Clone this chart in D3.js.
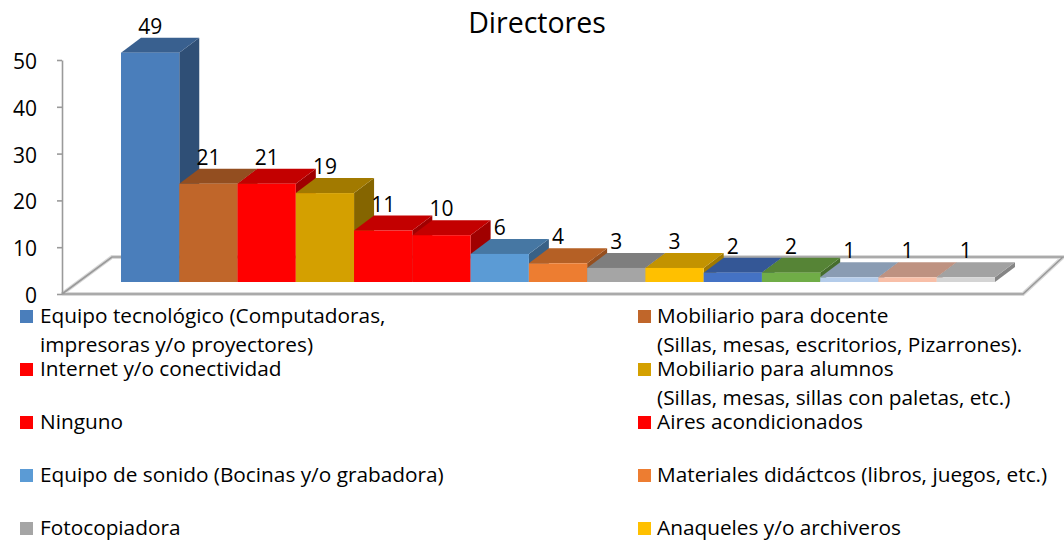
<!DOCTYPE html>
<html>
<head>
<meta charset="utf-8">
<script src="https://cdn.jsdelivr.net/npm/d3@7"></script>
<style>
  body { margin: 0; background: #ffffff; }
  svg { display: block; }
  text { font-family: "Open Sans", Lato, sans-serif; fill: #000; }
</style>
</head>
<body>
<svg id="chart" width="1064" height="540"></svg>
<script>
// ---- data -------------------------------------------------------------
const chartTitle = "Directores";
const categories = [
  "Equipo tecnológico (Computadoras,\nimpresoras y/o proyectores)",
  "Mobiliario para docente\n(Sillas, mesas, escritorios, Pizarrones).",
  "Internet y/o conectividad",
  "Mobiliario para alumnos\n(Sillas, mesas, sillas con paletas, etc.)",
  "Ninguno",
  "Aires acondicionados",
  "Equipo de sonido (Bocinas y/o grabadora)",
  "Materiales didáctcos (libros, juegos, etc.)",
  "Fotocopiadora",
  "Anaqueles y/o archiveros",
  "Categoría 11",
  "Categoría 12",
  "Categoría 13",
  "Categoría 14",
  "Categoría 15"
];
const values = [49, 21, 21, 19, 11, 10, 6, 4, 3, 3, 2, 2, 1, 1, 1];
const barColors = [
  "#4A7EBB", "#C0662A", "#FF0000", "#D4A000", "#FF0000",
  "#FF0000", "#5B9BD5", "#ED7D31", "#A5A5A5", "#FFC000",
  "#4472C4", "#70AD47", "#B4CCEA", "#F8BFA8", "#D4D4D4"
];
const yTicks = [0, 10, 20, 30, 40, 50];

// ---- layout -----------------------------------------------------------
const svg = d3.select("#chart");
const W = 1064, H = 540;

const axisX = 62;
const y = d3.scaleLinear().domain([0, 50]).range([294, 60]);   // value axis (front plane)
const barBase = 282;                                            // bars sit deeper in the box
const yBar = d3.scaleLinear().domain([0, 50]).range([barBase, barBase - (y(0) - y(50))]);
const x = d3.scaleBand().domain(d3.range(values.length)).range([121, 995]).padding(0);

const depthX = 20, depthY = 15;       // bar depth projection
const floorDX = 50, floorDY = 37;     // floor depth projection

// ---- title ------------------------------------------------------------
svg.append("text")
  .attr("x", 537).attr("y", 33)
  .attr("text-anchor", "middle")
  .style("font-size", "28.5px")
  .text(chartTitle);

// ---- floor outline ----------------------------------------------------
const floorFrontRight = 1023;
const floorPath = d3.path();
floorPath.moveTo(axisX, y(0));
floorPath.lineTo(axisX + floorDX, y(0) - floorDY);
floorPath.lineTo(W, y(0) - floorDY);
floorPath.moveTo(axisX, y(0));
floorPath.lineTo(floorFrontRight, y(0));
floorPath.lineTo(floorFrontRight + 40, y(0) - floorDY);
svg.append("path")
  .attr("d", floorPath.toString())
  .attr("fill", "none")
  .attr("stroke", "#D9D9D9")
  .attr("stroke-width", 4);
svg.append("path")
  .attr("d", floorPath.toString())
  .attr("fill", "none")
  .attr("stroke", "#9A9A9A")
  .attr("stroke-width", 1.6);

// ---- value axis -------------------------------------------------------
const yAxis = d3.axisLeft(y).tickValues(yTicks).tickSize(5).tickSizeOuter(0).tickPadding(20);
const gAxis = svg.append("g").attr("transform", `translate(${axisX},0)`).call(yAxis);
gAxis.select(".domain").attr("stroke", "#9A9A9A").attr("stroke-width", 1.6);
gAxis.selectAll(".tick line").attr("stroke", "#9A9A9A").attr("stroke-width", 1.6);
gAxis.selectAll(".tick text")
  .style("font-family", "'Open Sans', Lato, sans-serif")
  .style("font-size", "21px")
  .attr("dy", "0.4em")
  .attr("fill", "#000");

// ---- 3D bars ----------------------------------------------------------
const bars = svg.append("g");
values.forEach((v, i) => {
  const x0 = x(i), x1 = x(i) + x.bandwidth();
  const yt = yBar(v), yb = barBase;
  const base = d3.color(barColors[i]);
  const g = bars.append("g");
  // right side face
  g.append("path")
    .attr("d", `M${x1},${yt}L${x1 + depthX},${yt - depthY}L${x1 + depthX},${yb - depthY}L${x1},${yb}Z`)
    .attr("fill", base.darker(1.3));
  // top face
  g.append("path")
    .attr("d", `M${x0},${yt}L${x0 + depthX},${yt - depthY}L${x1 + depthX},${yt - depthY}L${x1},${yt}Z`)
    .attr("fill", base.darker(0.75));
  // front face
  g.append("rect")
    .attr("x", x0).attr("y", yt)
    .attr("width", x.bandwidth()).attr("height", yb - yt)
    .attr("fill", base);
});

// ---- value labels -----------------------------------------------------
svg.append("g").selectAll("text")
  .data(values)
  .join("text")
  .attr("x", (d, i) => x(i) + x.bandwidth() / 2)
  .attr("y", d => yBar(d) - depthY - 4)
  .attr("text-anchor", "middle")
  .style("font-size", "21px")
  .text(d => d);

// ---- legend (two columns; rows below the canvas are skipped) ----------
const legendCols = [{ sq: 20, tx: 40 }, { sq: 638, tx: 657 }];
const legendTop = 323, rowStep = 53, lineStep = 29;
const legend = svg.append("g");
categories.forEach((name, i) => {
  const col = legendCols[i % 2];
  const baseY = legendTop + Math.floor(i / 2) * rowStep;
  if (baseY - 14 > H) return;
  legend.append("rect")
    .attr("x", col.sq).attr("y", baseY - 13)
    .attr("width", 13).attr("height", 13)
    .attr("fill", barColors[i]);
  const t = legend.append("text")
    .attr("x", col.tx).attr("y", baseY)
    .style("font-size", "20.8px");
  name.split("\n").forEach((line, k) => {
    t.append("tspan").attr("x", col.tx).attr("y", baseY + k * lineStep).text(line);
  });
});
</script>
</body>
</html>
